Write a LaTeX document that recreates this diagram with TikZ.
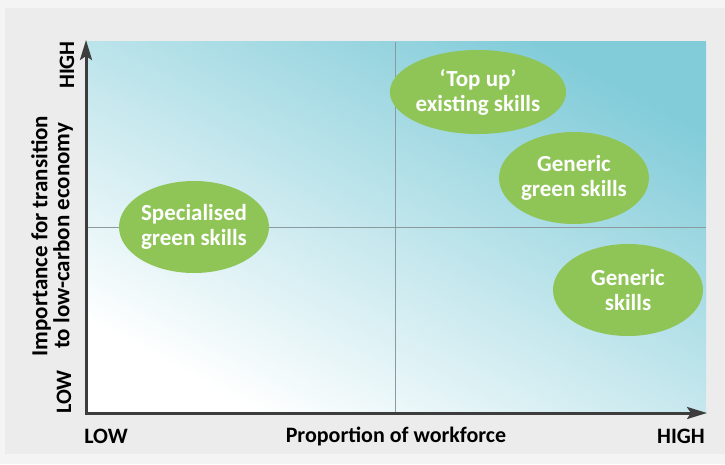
\documentclass[tikz,border=0pt]{standalone}
\usepackage{fontspec}
\setmainfont{Carlito}
\usetikzlibrary{shapes.geometric,arrows.meta}

\definecolor{edgegray}{HTML}{F4F4F4}
\definecolor{panelgray}{HTML}{ECECEC}
\definecolor{tealdark}{HTML}{82CCD9}
\definecolor{tealmid}{HTML}{CDEBF0}
\definecolor{skillgreen}{HTML}{8FC557}
\definecolor{axisgray}{HTML}{3D3D3D}
\definecolor{midgray}{HTML}{8A9A9E}

\begin{document}
\begin{tikzpicture}[x=1pt, y=-1pt,
  skill/.style={ellipse, fill=skillgreen, text=white, align=center, inner sep=0pt,
    minimum width=150pt, minimum height=92pt, font=\fontsize{23}{25}\selectfont\bfseries},
  axislabel/.style={font=\fontsize{22}{23}\selectfont\bfseries},
  axisline/.style={axisgray, line width=3pt,
    {Stealth[length=20pt,width=12pt,inset=4pt]}-{Stealth[length=20pt,width=12pt,inset=4pt]}},
  midline/.style={midgray, line width=1pt}]
\useasboundingbox (0,0) rectangle (725,464);
\fill[edgegray] (0,0) rectangle (725,464);
\fill[panelgray] (5,8) rectangle (725,454);

% plot area
\fill[bottom color=white, middle color=tealmid, top color=tealdark, shading angle=-28] (86,41) rectangle (706,413);

\coordinate (origin) at (86,413);
\coordinate (ytip) at (86,40);
\coordinate (xtip) at (707,413);
\coordinate (vtop) at (395,42);
\coordinate (vbot) at (395,413);
\coordinate (hleft) at (86,227);
\coordinate (hright) at (706,227);

\draw[midline] (vtop) -- (vbot);
\draw[midline] (hleft) -- (hright);

\node[skill, minimum width=146pt, minimum height=84pt] (topup) at (478,92) {‘Top up’\\existing skills};
\node[skill] (greengen) at (574,178) {Generic\\green skills};
\node[skill] (special) at (194,227) {Specialised\\green skills};
\node[skill] (generic) at (628,290) {Generic\\skills};

\draw[axisline] (ytip) -- (origin) -- (xtip);

\node[axislabel, rotate=90] (yhigh) at (67,65) {HIGH};
\node[axislabel, rotate=90] (ylow) at (64,392) {LOW};
\node[axislabel, rotate=90, align=center, font=\fontsize{23}{22}\selectfont\bfseries] (ytitle) at (52,236) {Importance for transition\\to low-carbon economy};
\node[axislabel] (xlow) at (106,436) {LOW};
\node[axislabel] (xtitle) at (396,436) {Proportion of workforce};
\node[axislabel] (xhigh) at (681,436) {HIGH};
\end{tikzpicture}
\end{document}
